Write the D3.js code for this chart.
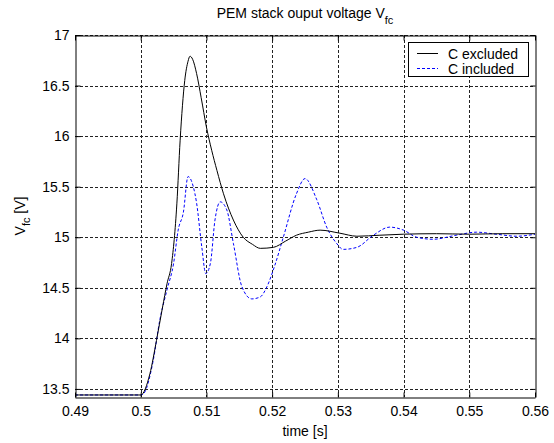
<!DOCTYPE html>
<html>
<head>
<meta charset="utf-8">
<script src="https://cdn.jsdelivr.net/npm/d3@7"></script>
<style>
  body { margin: 0; background: #fff; }
  svg { display: block; font-family: "Liberation Sans", Arial, sans-serif; }
</style>
</head>
<body>
<div id="chart"></div>
<script>
// time [s], values
const excludedT = [0.49, 0.5, 0.5014, 0.5024, 0.5033, 0.504, 0.5047, 0.5055, 0.506, 0.5067, 0.5072, 0.5075, 0.5079, 0.5085, 0.5092, 0.51, 0.5108, 0.5116, 0.5126, 0.5141, 0.5156, 0.517, 0.5182, 0.5202, 0.522, 0.5237, 0.5255, 0.5273, 0.5303, 0.5329, 0.5364, 0.54, 0.545, 0.55, 0.555, 0.56];
const excludedV = [13.44, 13.44, 13.65, 13.98, 14.3, 14.54, 14.74, 15.33, 15.96, 16.55, 16.74, 16.79, 16.76, 16.62, 16.38, 16.09, 15.86, 15.66, 15.43, 15.17, 15.0, 14.93, 14.89, 14.9, 14.96, 15.02, 15.05, 15.07, 15.04, 15.01, 15.02, 15.03, 15.035, 15.03, 15.035, 15.035];

const includedT = [0.49, 0.5, 0.5004, 0.5019, 0.5029, 0.504, 0.505, 0.5057, 0.5065, 0.5072, 0.508, 0.5085, 0.5093, 0.5099, 0.5106, 0.5113, 0.5121, 0.5131, 0.5141, 0.5154, 0.5169, 0.5182, 0.5192, 0.5204, 0.5217, 0.5237, 0.525, 0.5268, 0.5283, 0.5298, 0.5308, 0.5329, 0.5354, 0.5379, 0.54, 0.542, 0.5445, 0.548, 0.5511, 0.5541, 0.5572, 0.56];
const includedV = [13.44, 13.44, 13.45, 13.78, 14.18, 14.48, 14.74, 15.07, 15.25, 15.6, 15.5, 15.34, 14.9, 14.64, 14.74, 15.17, 15.35, 15.27, 14.94, 14.51, 14.39, 14.41, 14.51, 14.72, 15.0, 15.43, 15.58, 15.37, 15.1, 14.94, 14.88, 14.9, 15.02, 15.1, 15.07, 15.0, 14.98, 15.02, 15.05, 15.03, 15.01, 15.03];

const xTicks = [0.49, 0.5, 0.51, 0.52, 0.53, 0.54, 0.55, 0.56];
const yTicks = [13.5, 14, 14.5, 15, 15.5, 16, 16.5, 17];
const seriesNames = ["C excluded", "C included"];

const W = 554, H = 443;
const plot = { left: 75, right: 535, top: 35, bottom: 397 };
const fontSize = "14px";

const svg = d3.select("#chart").append("svg")
    .attr("width", W)
    .attr("height", H);

const x = d3.scaleLinear().domain([0.49, 0.56]).range([plot.left, plot.right]);
const y = d3.scaleLinear().domain([13.42, 17]).range([plot.bottom, plot.top]);

// grid (dotted)
const grid = svg.append("g")
    .attr("stroke", "#222")
    .attr("stroke-width", 1)
    .attr("stroke-dasharray", "3,2");
grid.selectAll(".gx").data(xTicks.slice(1, -1)).enter().append("line")
    .attr("x1", d => Math.round(x(d)) + 0.5).attr("x2", d => Math.round(x(d)) + 0.5)
    .attr("y1", plot.top).attr("y2", plot.bottom);
grid.selectAll(".gy").data(yTicks).enter().append("line")
    .attr("x1", plot.left).attr("x2", plot.right)
    .attr("y1", d => Math.round(y(d)) + 0.5).attr("y2", d => Math.round(y(d)) + 0.5);

// lines
const line = d3.line()
    .x(d => x(d[0]))
    .y(d => y(d[1]))
    .curve(d3.curveMonotoneX);

svg.append("path")
    .datum(d3.zip(includedT, includedV))
    .attr("fill", "none")
    .attr("stroke", "#0000ff")
    .attr("stroke-width", 1)
    .attr("stroke-dasharray", "3,2")
    .attr("d", line);

svg.append("path")
    .datum(d3.zip(excludedT, excludedV))
    .attr("fill", "none")
    .attr("stroke", "#000")
    .attr("stroke-width", 1)
    .attr("d", line);

// box axes with inward ticks
const tickLen = 5;
const bottomAxis = svg.append("g")
    .attr("transform", `translate(0,${plot.bottom + 0.5})`)
    .call(d3.axisBottom(x).tickValues(xTicks).tickSizeInner(-tickLen).tickSizeOuter(0).tickPadding(9)
        .tickFormat(d => String(+d.toFixed(2))));
const topAxis = svg.append("g")
    .attr("transform", `translate(0,${plot.top + 0.5})`)
    .call(d3.axisTop(x).tickValues(xTicks).tickSizeInner(-tickLen).tickSizeOuter(0).tickFormat(""));
const leftAxis = svg.append("g")
    .attr("transform", `translate(${plot.left + 0.5},0)`)
    .call(d3.axisLeft(y).tickValues(yTicks).tickSizeInner(-tickLen).tickSizeOuter(0).tickPadding(6)
        .tickFormat(d => String(d)));
const rightAxis = svg.append("g")
    .attr("transform", `translate(${plot.right + 0.5},0)`)
    .call(d3.axisRight(y).tickValues(yTicks).tickSizeInner(-tickLen).tickSizeOuter(0).tickFormat(""));

[bottomAxis, topAxis, leftAxis, rightAxis].forEach(g => {
    g.selectAll("path").attr("stroke", "#000");
    g.selectAll("line").attr("stroke", "#000");
    g.selectAll("text").attr("fill", "#000").style("font-size", fontSize)
        .style("font-family", "'Liberation Sans', Arial, sans-serif");
});

// title
const title = svg.append("text")
    .attr("x", (plot.left + plot.right) / 2)
    .attr("y", 18)
    .attr("text-anchor", "middle")
    .style("font-size", fontSize);
title.append("tspan").text("PEM stack ouput voltage V");
title.append("tspan").attr("dy", 6).style("font-size", "11px").text("fc");

// x label
svg.append("text")
    .attr("x", (plot.left + plot.right) / 2)
    .attr("y", 436)
    .attr("text-anchor", "middle")
    .style("font-size", fontSize)
    .text("time [s]");

// y label
const ylab = svg.append("text")
    .attr("transform", `translate(25,${(plot.top + plot.bottom) / 2}) rotate(-90)`)
    .attr("text-anchor", "middle")
    .style("font-size", fontSize);
ylab.append("tspan").text("V");
ylab.append("tspan").attr("dy", 5).style("font-size", "11px").text("fc");
ylab.append("tspan").attr("dy", -5).text(" [V]");

// legend
const legend = svg.append("g");
legend.append("rect")
    .attr("x", 408.5).attr("y", 42.5)
    .attr("width", 120).attr("height", 34)
    .attr("fill", "#fff").attr("stroke", "#000");
const styles = [{ color: "#000", dash: null }, { color: "#0000ff", dash: "3,2" }];
seriesNames.forEach((name, i) => {
    const yy = 53.5 + i * 15;
    legend.append("line")
        .attr("x1", 417).attr("x2", 438)
        .attr("y1", yy).attr("y2", yy)
        .attr("stroke", styles[i].color)
        .attr("stroke-dasharray", styles[i].dash);
    legend.append("text")
        .attr("x", 448).attr("y", yy + 5)
        .style("font-size", fontSize)
        .text(name);
});
</script>
</body>
</html>
